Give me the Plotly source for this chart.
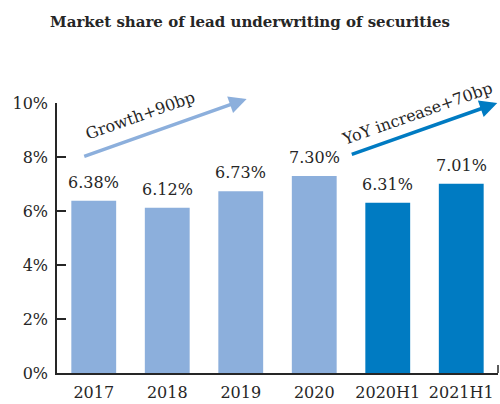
import plotly.graph_objects as go

# data
periods = ["2017", "2018", "2019", "2020", "2020H1", "2021H1"]
share = [6.38, 6.12, 6.73, 7.30, 6.31, 7.01]
share_labels = ["6.38%", "6.12%", "6.73%", "7.30%", "6.31%", "7.01%"]
bar_colors = ["#8cafdc", "#8cafdc", "#8cafdc", "#8cafdc", "#007bc2", "#007bc2"]
y_ticks = [0, 2, 4, 6, 8, 10]
y_tick_text = ["0%", "2%", "4%", "6%", "8%", "10%"]

FONT = "DejaVu Serif"
INK = "#262626"

fig = go.Figure()
fig.add_trace(go.Bar(
    x=list(range(len(periods))),
    y=share,
    marker=dict(color=bar_colors, line=dict(width=0)),
    width=0.61,
    hoverinfo="skip",
))

# value labels above bars
for i, (v, lab) in enumerate(zip(share, share_labels)):
    fig.add_annotation(x=i, y=v, text=lab, showarrow=False, xref="x", yref="y",
                       yanchor="bottom", yshift=7,
                       font=dict(family=FONT, size=16, color=INK))

# trend arrows
fig.add_annotation(x=2.08, y=10.15, ax=-0.15, ay=8.0, xref="x", yref="y",
                   axref="x", ayref="y", text="", showarrow=True,
                   arrowhead=2, arrowsize=1, arrowwidth=3.5, arrowcolor="#8cafdc")
fig.add_annotation(x=5.49, y=10.0, ax=3.49, ay=8.08, xref="x", yref="y",
                   axref="x", ayref="y", text="", showarrow=True,
                   arrowhead=2, arrowsize=1, arrowwidth=3.5, arrowcolor="#007bc2")
fig.add_annotation(x=0.63, y=9.52, text="Growth+90bp", showarrow=False,
                   xref="x", yref="y", textangle=-19.5,
                   font=dict(family=FONT, size=16, color=INK))
fig.add_annotation(x=4.40, y=9.6, text="YoY increase+70bp", showarrow=False,
                   xref="x", yref="y", textangle=-19.5,
                   font=dict(family=FONT, size=16, color=INK))

# small end tick on the x axis
fig.add_shape(type="line", xref="paper", yref="paper", x0=1, x1=1, y0=0, y1=0.03,
              line=dict(color=INK, width=1.5))

fig.update_layout(
    width=500, height=404,
    margin=dict(l=57, r=2, t=103, b=29),
    plot_bgcolor="white", paper_bgcolor="white",
    showlegend=False,
    title=dict(text="<b>Market share of lead underwriting of securities</b>",
               x=0.5, xanchor="center", y=0.945, yanchor="middle",
               font=dict(family=FONT, size=15, color=INK)),
    xaxis=dict(range=[-0.5, 5.5], tickmode="array", tickvals=list(range(len(periods))),
               ticktext=periods, showline=True, linecolor=INK, linewidth=1.5,
               showgrid=False, zeroline=False, ticks="", ticklabelstandoff=4,
               tickfont=dict(family=FONT, size=16, color=INK)),
    yaxis=dict(range=[0, 10], tickmode="array", tickvals=y_ticks, ticktext=y_tick_text,
               showline=True, linecolor=INK, linewidth=1.5, showgrid=False,
               zeroline=False, ticks="inside", ticklen=9, tickwidth=1.5, tickcolor=INK,
               ticklabelstandoff=4,
               tickfont=dict(family=FONT, size=16, color=INK)),
)

# page has a default 8px body margin; drop it so the 500x404 figure fills the window
fig.write_html("out.html", config={"displayModeBar": False},
               post_script="document.body.style.margin='0';")
